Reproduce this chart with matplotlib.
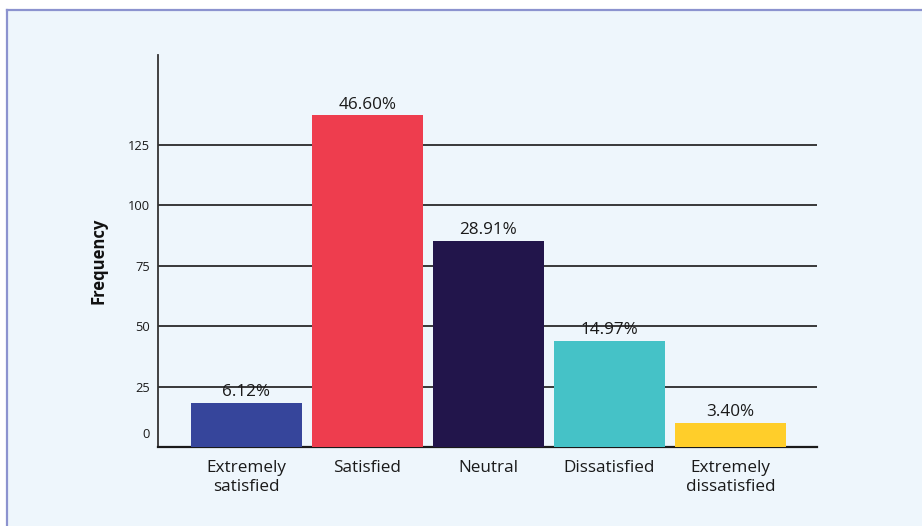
import numpy as np
import matplotlib
matplotlib.use("Agg")
import matplotlib.pyplot as plt
from matplotlib.patches import Rectangle
from matplotlib.lines import Line2D
from matplotlib.transforms import ScaledTranslation

plt.rcParams['font.family'] = ['Open Sans', 'DejaVu Sans']

# survey responses
categories = ['Extremely\nsatisfied', 'Satisfied', 'Neutral', 'Dissatisfied',
              'Extremely\ndissatisfied']
counts = [18, 137, 85, 44, 10]
colors = ['#36459b', '#ee3d4e', '#22154b', '#45c2c7', '#ffce2a']
yticks = [0, 25, 50, 75, 100, 125]

bg = '#eef6fc'
percents = np.array(counts) / sum(counts) * 100

fig = plt.figure(figsize=(9.22, 5.26), dpi=100, facecolor='white')
W, H = 922, 526

# light panel with a border on top and left (kept behind the axes)
fig.patches.append(Rectangle((7 / W, 0), 1, 1 - 10 / H, transform=fig.transFigure,
                             facecolor=bg, edgecolor='none', zorder=-2))
fig.lines.append(Line2D([7 / W, 1], [1 - 10 / H, 1 - 10 / H], transform=fig.transFigure,
                        color='#8c93cf', lw=1.6, zorder=-1))
fig.lines.append(Line2D([7 / W, 7 / W], [0, 1 - 10 / H], transform=fig.transFigure,
                        color='#8c93cf', lw=1.6, zorder=-1))

ax = fig.add_axes([158 / W, 1 - 447 / H, (817 - 158) / W, (447 - 55) / H])
ax.set_facecolor('none')

x = np.arange(len(categories))
ax.bar(x, counts, width=0.917, color=colors, zorder=3)

for xi, c, p in zip(x, counts, percents):
    ax.annotate(f'{p:.2f}%', (xi, c), xytext=(0, 5), textcoords='offset points',
                ha='center', va='baseline', fontsize=12.3, color='#1a1a1a')

ax.set_xlim(-0.731, 4.715)
ax.set_ylim(0, 162)
ax.set_yticks(yticks)
ax.set_xticks(x)
ax.set_xticklabels(categories, fontsize=12.3, color='#1a1a1a', linespacing=1.3)
ax.tick_params(axis='x', length=0, pad=9)
ax.tick_params(axis='y', length=0, pad=6, labelsize=9.3, labelcolor='#1a1a1a')

# the zero label sits a little above the baseline
ylab = ax.get_yticklabels()
ylab[0].set_transform(ylab[0].get_transform() +
                      ScaledTranslation(0, 10 / 72, fig.dpi_scale_trans))

for t in yticks[1:]:
    ax.axhline(t, color='#2a2a2a', lw=1.3, zorder=1)

for s in ['top', 'right']:
    ax.spines[s].set_visible(False)
ax.spines['left'].set_color('#333333')
ax.spines['left'].set_linewidth(1.3)
ax.spines['bottom'].set_color('#1a1a1a')
ax.spines['bottom'].set_linewidth(1.6)

ax.set_ylabel('Frequency', fontsize=12, fontweight='bold', color='#111111')
ax.yaxis.set_label_coords(-0.076, 0.476)

fig.savefig('out.png', dpi=100, facecolor='white')
